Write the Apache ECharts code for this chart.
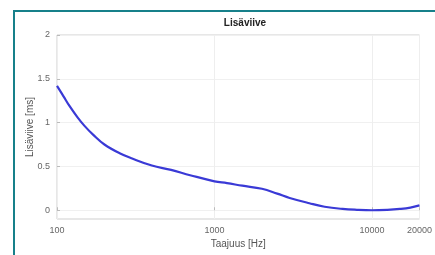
<!DOCTYPE html>
<html><head><meta charset="utf-8">
<script src="https://cdn.jsdelivr.net/npm/echarts@6/dist/echarts.min.js"></script>
<style>
html,body{margin:0;padding:0;background:#fff;width:435px;height:255px;overflow:hidden;}
#frame{position:absolute;left:13px;top:10px;width:440px;height:260px;border:2.5px solid #17808a;box-sizing:border-box;}
#c{position:absolute;left:0;top:0;width:435px;height:255px;}
</style></head>
<body>
<div id="frame"></div>
<div id="c"></div>
<script>
const freqs = [100, 110, 120, 135, 150, 170, 200, 250, 300, 400, 530, 700, 1000, 1200, 1500, 2000, 2500, 3000, 4000, 5000, 6500, 8000, 10000, 12500, 15000, 17500, 20000];
const delays = [1.42, 1.30, 1.19, 1.06, 0.96, 0.86, 0.75, 0.65, 0.59, 0.51, 0.46, 0.40, 0.33, 0.31, 0.28, 0.245, 0.19, 0.14, 0.08, 0.04, 0.015, 0.005, 0.0, 0.005, 0.015, 0.03, 0.055];
const yTicks = [0, 0.5, 1, 1.5, 2];
const titleText = 'Lisäviive';
const xName = 'Taajuus [Hz]';
const yName = 'Lisäviive [ms]';

const chart = echarts.init(document.getElementById('c'), null, {renderer:'canvas'});
chart.setOption({
  animation:false,
  backgroundColor:'transparent',
  title:{text:titleText,left:240,textAlign:'center',top:13,textStyle:{fontSize:10,fontWeight:'bold',color:'#222',fontFamily:'Liberation Sans'}},
  grid:{left:57,right:11,top:35,bottom:36,show:true,borderColor:'#cfcfcf',borderWidth:1},
  xAxis:{type:'log',logBase:10,min:100,max:20000,
    name:xName,nameLocation:'middle',nameGap:20,nameMoveOverlap:false,nameTextStyle:{fontSize:10,color:'#555',fontFamily:'Liberation Sans'},
    axisLine:{show:false},axisTick:{show:true,inside:true,length:3,lineStyle:{color:'#bbb'}},
    axisLabel:{fontSize:9,color:'#666',margin:7,fontFamily:'Liberation Sans',showMaxLabel:true,formatter:v=>String(Math.round(v))},
    splitLine:{show:true,lineStyle:{color:'#eeeeee',width:1}},
    minorTick:{show:false}},
  yAxis:{type:'value',min:-0.1,max:2,
    name:yName,nameLocation:'middle',nameGap:22,nameMoveOverlap:false,nameTextStyle:{fontSize:10,color:'#555',fontFamily:'Liberation Sans'},
    axisLine:{show:false},
    axisTick:{show:true,inside:true,length:3,lineStyle:{color:'#bbb'},customValues:yTicks},
    axisLabel:{fontSize:9,color:'#666',margin:7,fontFamily:'Liberation Sans',customValues:yTicks,formatter:v=>String(v)},
    splitLine:{show:true,lineStyle:{color:'#f0f0f0',width:1}}},
  series:[{type:'line',data:freqs.map((f,i)=>[f,delays[i]]),smooth:0.4,showSymbol:false,
    lineStyle:{color:'#3a3ad6',width:2.2}}]
});
</script>
</body></html>
